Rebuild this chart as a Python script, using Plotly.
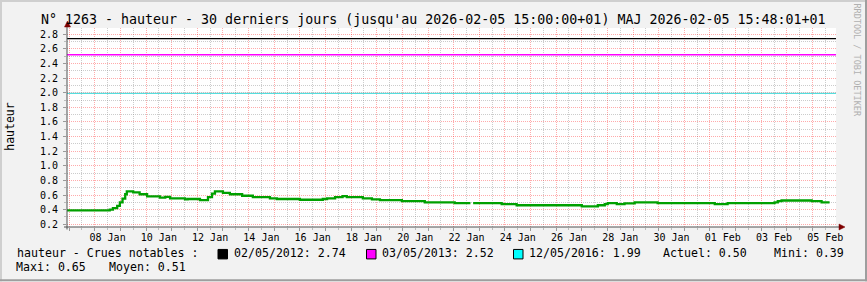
import plotly.graph_objects as go

# ---------------- data ----------------
times = [
    "2026-01-06 22:00", "2026-01-08 14:00", "2026-01-08 17:00", "2026-01-08 21:00",
    "2026-01-08 23:30", "2026-01-09 02:00", "2026-01-09 04:30", "2026-01-09 06:00",
    "2026-01-09 12:00", "2026-01-09 18:00", "2026-01-10 01:00", "2026-01-10 13:00",
    "2026-01-10 18:00", "2026-01-10 22:30", "2026-01-11 12:30", "2026-01-11 15:00",
    "2026-01-12 02:30", "2026-01-12 10:00", "2026-01-12 13:45", "2026-01-12 16:30",
    "2026-01-13 00:00", "2026-01-13 06:30", "2026-01-13 18:00", "2026-01-14 04:00",
    "2026-01-14 20:00", "2026-01-15 02:30", "2026-01-16 00:00", "2026-01-16 21:30",
    "2026-01-17 01:30", "2026-01-17 09:00", "2026-01-17 16:00", "2026-01-17 20:00",
    "2026-01-18 11:00", "2026-01-18 19:30", "2026-01-19 03:00", "2026-01-19 23:30",
    "2026-01-20 21:00", "2026-01-22 01:00", "2026-01-22 15:45", "2026-01-22 16:00",
    "2026-01-22 18:15", "2026-01-23 21:00", "2026-01-24 11:00", "2026-01-27 00:00",
    "2026-01-27 15:00", "2026-01-27 21:30", "2026-01-28 00:15", "2026-01-28 08:45",
    "2026-01-28 16:00", "2026-01-29 01:30", "2026-01-29 23:00", "2026-02-01 04:30",
    "2026-02-01 16:30", "2026-02-03 12:30", "2026-02-03 15:30", "2026-02-03 19:00",
    "2026-02-04 23:15", "2026-02-05 08:30", "2026-02-05 16:00",
]
levels = [
    0.39, 0.40, 0.42, 0.45,
    0.50, 0.55, 0.61, 0.65,
    0.635, 0.61, 0.58, 0.565,
    0.575, 0.555, 0.54, 0.545,
    0.53, 0.57, 0.62, 0.65,
    0.63, 0.61, 0.59, 0.57,
    0.555, 0.545, 0.535, 0.545,
    0.555, 0.57, 0.585, 0.57,
    0.555, 0.54, 0.53, 0.515,
    0.50, 0.49, 0.49, None,
    0.49, 0.475, 0.46, 0.445,
    0.46, 0.475, 0.49, 0.475,
    0.485, 0.50, 0.49, 0.475,
    0.49, 0.50, 0.515, 0.525,
    0.515, 0.50, 0.50,
]

flood_dates = ["02/05/2012", "03/05/2013", "12/05/2016"]
flood_levels = [2.74, 2.52, 1.99]
flood_colors = ["#000000", "#FF00FF", "#00FFFF"]
flood_line_colors = ["#000000", "#FF00FF", "#55DDDD"]

stat_actuel = 0.50
stat_mini = 0.39
stat_maxi = 0.65
stat_moyen = 0.51

title_text = "N° 1263 - hauteur - 30 derniers jours (jusqu'au 2026-02-05 15:00:00+01) MAJ 2026-02-05 15:48:01+01"
y_title = "hauteur"
legend_head = "hauteur - Crues notables :"
watermark = "RRDTOOL / TOBI OETIKER"

X_START = "2026-01-06 22:00"
X_END = "2026-02-05 22:00"

# ---------------- layout geometry (pixels) ----------------
W, H = 867, 282
L, R, T, B = 67, 836, 28, 227.5
MONO = "DejaVu Sans Mono"


def fx(px):
    return (px - L) / (R - L)


def fy(py):
    return (B - py) / (B - T)


fig = go.Figure()

# flood reference lines
for lv, col in zip(flood_levels, flood_line_colors):
    fig.add_trace(go.Scatter(
        x=[X_START, X_END], y=[lv, lv], mode="lines",
        line=dict(color=col, width=1.3), hoverinfo="skip", showlegend=False))

# water level
fig.add_trace(go.Scatter(
    x=times, y=levels, mode="lines", line=dict(color="#00A000", width=2.3, shape="hv"),
    connectgaps=False, showlegend=False))

# dummy trace for label axis
fig.add_trace(go.Scatter(x=[X_START], y=[None], xaxis="x2", mode="lines",
                         showlegend=False, hoverinfo="skip"))

MAJ_GRID = "rgba(255,0,0,0.33)"
MIN_GRID = "rgba(143,143,143,0.45)"
DASH = "1px,1px"

fig.update_layout(
    width=W, height=H,
    margin=dict(l=L, r=W - R, t=T, b=H - B),
    paper_bgcolor="#F2F2F2", plot_bgcolor="#FFFFFF",
    font=dict(family=MONO, size=10, color="#000000"),
    showlegend=False,
    xaxis=dict(
        type="date", range=[X_START, X_END],
        tickmode="linear", tick0="2026-01-07 00:00", dtick=86400000,
        showticklabels=False, showgrid=True, gridcolor=MAJ_GRID, griddash=DASH, gridwidth=1,
        ticks="outside", ticklen=3, tickcolor="#999999",
        zeroline=False, showline=False,
        minor=dict(tick0="2026-01-07 00:00", dtick=43200000, showgrid=True,
                   gridcolor=MIN_GRID, griddash=DASH, gridwidth=1,
                   ticks="outside", ticklen=2, tickcolor="#BBBBBB"),
    ),
    xaxis2=dict(
        type="date", range=[X_START, X_END], overlaying="x", matches="x", side="bottom",
        anchor="y", tickmode="linear", tick0="2026-01-08 12:00", dtick=2 * 86400000,
        tickformat="%d %b", showgrid=False, ticks="", ticklen=0,
        tickfont=dict(family=MONO, size=10, color="#000000"),
        ticklabelstandoff=3, zeroline=False, showline=False,
    ),
    yaxis=dict(
        range=[0.162, 2.886], tickmode="linear", tick0=0, dtick=0.2, tickformat=".1f",
        showgrid=True, gridcolor=MAJ_GRID, griddash=DASH, gridwidth=1,
        ticks="outside", ticklen=3, tickcolor="#999999",
        tickfont=dict(family=MONO, size=10, color="#000000"),
        ticklabelstandoff=3, zeroline=False, showline=False,
        minor=dict(tick0=0, dtick=0.1, showgrid=True, gridcolor=MIN_GRID, griddash=DASH,
                   gridwidth=1, ticks="outside", ticklen=2, tickcolor="#BBBBBB"),
    ),
)

shapes = []
# image border shading
shapes.append(dict(type="rect", xref="paper", yref="paper", x0=fx(0), x1=fx(W), y0=fy(0), y1=fy(2),
                   fillcolor="#CFCFCF", line=dict(width=0), layer="above"))
shapes.append(dict(type="rect", xref="paper", yref="paper", x0=fx(0), x1=fx(2), y0=fy(0), y1=fy(H),
                   fillcolor="#CFCFCF", line=dict(width=0), layer="above"))
shapes.append(dict(type="rect", xref="paper", yref="paper", x0=fx(0), x1=fx(W), y0=fy(H - 2), y1=fy(H),
                   fillcolor="#9E9E9E", line=dict(width=0), layer="above"))
shapes.append(dict(type="rect", xref="paper", yref="paper", x0=fx(W - 2), x1=fx(W), y0=fy(0), y1=fy(H),
                   fillcolor="#9E9E9E", line=dict(width=0), layer="above"))
# axes lines
AX = "#505050"
shapes.append(dict(type="line", xref="paper", yref="paper", x0=fx(L), x1=fx(L), y0=fy(230), y1=fy(24),
                   line=dict(color=AX, width=1), layer="above"))
shapes.append(dict(type="line", xref="paper", yref="paper", x0=fx(64), x1=fx(840), y0=fy(B), y1=fy(B),
                   line=dict(color=AX, width=1), layer="above"))
# arrows
ARROW = "#7F0000"
shapes.append(dict(type="path", xref="paper", yref="paper",
                   path=f"M {fx(67.5)},{fy(21)} L {fx(64.5)},{fy(27)} L {fx(70.5)},{fy(27)} Z",
                   fillcolor=ARROW, line=dict(color=ARROW, width=0.5), layer="above"))
shapes.append(dict(type="path", xref="paper", yref="paper",
                   path=f"M {fx(845)},{fy(B)} L {fx(839)},{fy(B - 3)} L {fx(839)},{fy(B + 3)} Z",
                   fillcolor=ARROW, line=dict(color=ARROW, width=0.5), layer="above"))

annotations = []
annotations.append(dict(text=title_text, x=fx(433), y=fy(19), xref="paper", yref="paper",
                        xanchor="center", yanchor="middle", showarrow=False,
                        font=dict(family=MONO, size=13.3, color="#000000")))
annotations.append(dict(text=y_title, x=fx(10), y=fy(127), xref="paper", yref="paper",
                        xanchor="center", yanchor="middle", showarrow=False, textangle=-90,
                        font=dict(family=MONO, size=11.5, color="#000000")))
annotations.append(dict(text=watermark, x=fx(857.5), y=fy(60), xref="paper", yref="paper",
                        xanchor="center", yanchor="middle", showarrow=False, textangle=90,
                        font=dict(family=MONO, size=8.5, color="#B0B0B0")))

LEG = dict(family=MONO, size=11.6, color="#000000")
row1, row2 = 254, 268


def text_at(s, x, y):
    annotations.append(dict(text=s, x=fx(x), y=fy(y), xref="paper", yref="paper",
                            xanchor="left", yanchor="middle", showarrow=False, font=LEG))


text_at(legend_head, 14.5, row1)
sq_x = [218, 366.5, 513.5]
for sx, d, lv, col in zip(sq_x, flood_dates, flood_levels, flood_colors):
    shapes.append(dict(type="rect", xref="paper", yref="paper", x0=fx(sx), x1=fx(sx + 9.5),
                       y0=fy(250), y1=fy(259.5), fillcolor=col, line=dict(color="#000000", width=1),
                       layer="above"))
    text_at(f"{d}: {lv:.2f}", sx + 13.5, row1)
text_at(f"Actuel: {stat_actuel:.2f}", 660.5, row1)
text_at(f"Mini: {stat_mini:.2f}", 772, row1)
text_at(f"Maxi: {stat_maxi:.2f}", 14.5, row2)
text_at(f"Moyen: {stat_moyen:.2f}", 106.5, row2)

fig.update_layout(shapes=shapes, annotations=annotations)

fig.write_html("out.html")
